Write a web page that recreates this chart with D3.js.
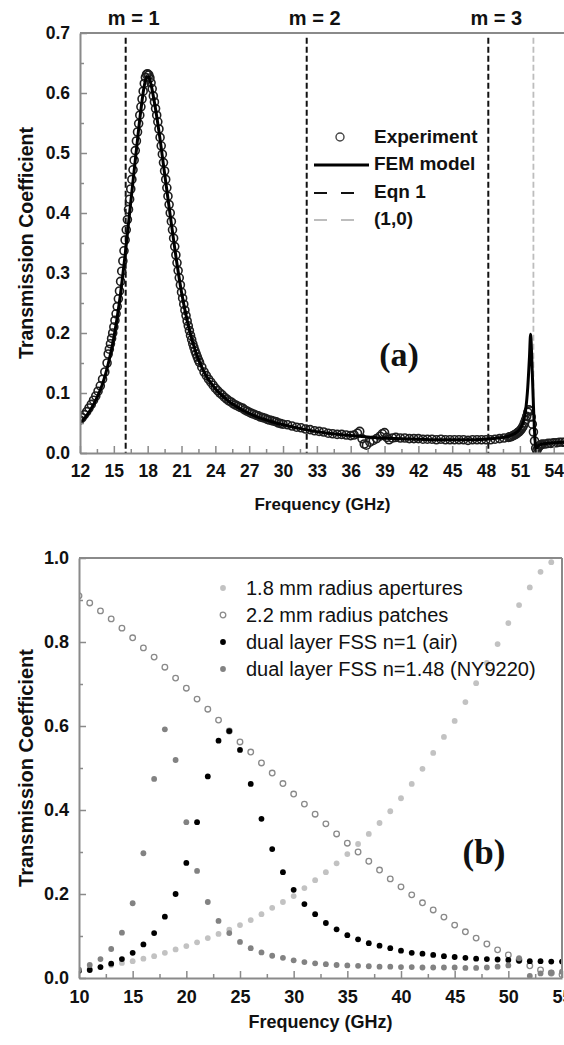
<!DOCTYPE html>
<html>
<head>
<meta charset="utf-8">
<script src="https://cdn.jsdelivr.net/npm/d3@7"></script>
<style>
  body { margin: 0; background: #fff; }
  svg text { font-family: "Liberation Sans", Arial, sans-serif; }
</style>
</head>
<body>
<svg id="chart"></svg>
<script>
// ---- panel (a): measured transmission [GHz, T] ----
var experiment = [
  [12.0,0.055],[12.2,0.059],[12.4,0.064],[12.6,0.069],[12.8,0.075],[13.0,0.081],[13.2,0.088],
  [13.4,0.095],[13.6,0.103],[13.8,0.112],[14.0,0.123],[14.2,0.135],[14.4,0.150],
  [14.5,0.165],[14.6,0.173],[14.7,0.182],[14.8,0.191],[14.9,0.200],[15.0,0.210],[15.1,0.221],
  [15.2,0.232],[15.3,0.244],[15.4,0.257],[15.5,0.270],[15.6,0.286],[15.7,0.303],[15.8,0.320],
  [15.9,0.337],[16.0,0.355],[16.1,0.372],[16.2,0.389],[16.3,0.406],[16.4,0.423],[16.5,0.440],
  [16.6,0.456],[16.7,0.472],[16.8,0.488],[16.9,0.504],[17.0,0.520],[17.1,0.535],[17.2,0.549],
  [17.3,0.563],[17.4,0.577],[17.5,0.590],[17.6,0.603],[17.7,0.616],[17.8,0.626],[17.9,0.631],
  [18.0,0.632],[18.1,0.630],[18.2,0.625],[18.3,0.617],[18.4,0.607],[18.5,0.595],[18.6,0.585],
  [18.7,0.574],[18.8,0.563],[18.9,0.552],[19.0,0.540],[19.1,0.526],[19.2,0.512],[19.3,0.498],
  [19.4,0.484],[19.5,0.470],[19.6,0.456],[19.7,0.442],[19.8,0.428],[19.9,0.414],[20.0,0.400],
  [20.1,0.386],[20.2,0.372],[20.3,0.358],[20.4,0.344],[20.5,0.330],[20.6,0.317],[20.7,0.304],
  [20.8,0.292],[20.9,0.280],[21.0,0.268],[21.1,0.258],[21.2,0.248],[21.3,0.238],[21.4,0.229],
  [21.5,0.220],[21.6,0.212],[21.7,0.204],[21.8,0.196],[21.9,0.189],[22.0,0.182],[22.1,0.176],
  [22.2,0.170],[22.3,0.165],[22.4,0.160],[22.5,0.155],
  [22.6,0.151],[22.8,0.143],[23.0,0.135],[23.2,0.129],[23.4,0.123],[23.6,0.118],[23.8,0.113],
  [24.0,0.108],[24.2,0.104],[24.4,0.100],[24.6,0.097],[24.8,0.093],[25.0,0.090],[25.2,0.087],
  [25.4,0.085],[25.6,0.082],[25.8,0.080],[26.0,0.078],[26.2,0.076],[26.4,0.075],[26.6,0.072],
  [26.8,0.070],[27.0,0.068],[27.2,0.066],[27.4,0.065],[27.6,0.063],[27.8,0.062],[28.0,0.060],
  [28.2,0.059],[28.4,0.058],[28.6,0.056],[28.8,0.055],[29.0,0.054],[29.2,0.053],[29.4,0.052],
  [29.6,0.050],[29.8,0.049],[30.0,0.048],
  [30.4,0.047],[30.8,0.045],[31.2,0.043],[31.6,0.042],[32.0,0.040],[32.4,0.039],[32.8,0.037],
  [33.2,0.036],[33.6,0.035],[34.0,0.033],[34.4,0.032],[34.8,0.031],[35.2,0.031],[35.6,0.030],
  [36.0,0.029],[36.3,0.030],[36.6,0.033],[36.8,0.036],[37.0,0.024],[37.2,0.015],[37.4,0.013],
  [37.7,0.018],[38.0,0.021],[38.3,0.024],[38.6,0.028],[38.8,0.032],[39.0,0.034],[39.2,0.026],
  [39.4,0.022],[39.7,0.025],[40.0,0.026],[40.4,0.025],[40.8,0.025],[41.2,0.024],[41.6,0.024],
  [42.0,0.024],[42.4,0.023],[42.8,0.023],[43.2,0.023],[43.6,0.022],[44.0,0.023],[44.4,0.022],
  [44.8,0.022],[45.2,0.022],[45.6,0.022],[46.0,0.022],[46.4,0.021],[46.8,0.022],[47.2,0.022],
  [47.6,0.022],[48.0,0.022],[48.4,0.022],[48.8,0.023],[49.2,0.024],[49.6,0.025],[50.0,0.026],
  [50.1,0.027],[50.2,0.027],[50.3,0.028],[50.4,0.029],[50.5,0.030],[50.6,0.031],[50.7,0.032],
  [50.8,0.034],[50.9,0.035],[51.0,0.037],[51.1,0.039],[51.2,0.042],[51.3,0.045],[51.4,0.050],
  [51.5,0.055],[51.6,0.061],[51.7,0.068],[51.8,0.072],[51.9,0.070],[52.0,0.060],[52.1,0.048],
  [52.2,0.035],[52.3,0.020],[52.4,0.008],[52.5,0.004],[52.6,0.008],[52.7,0.011],[52.8,0.013],
  [52.9,0.014],[53.0,0.015],[53.25,0.015],[53.5,0.016],[53.75,0.016],[54.0,0.017],[54.25,0.017],
  [54.5,0.018],[54.75,0.018],[55.0,0.018]
];

// FEM simulation [GHz, T]
var femModel = [
  [12,0.050],[12.5,0.060],[13,0.074],[13.5,0.092],[14,0.115],[14.5,0.148],[15,0.192],[15.5,0.252],
  [16,0.330],[16.5,0.418],[17,0.505],[17.4,0.572],[17.7,0.612],[17.9,0.626],[18.1,0.627],[18.3,0.614],
  [18.6,0.584],[19,0.536],[19.5,0.466],[20,0.396],[20.5,0.328],[21,0.268],[21.5,0.221],[22,0.184],
  [22.5,0.156],[23,0.135],[24,0.107],[25,0.089],[26,0.076],[27,0.066],[28,0.058],[29,0.052],
  [30,0.047],[32,0.039],[34,0.033],[36,0.029],[38,0.026],[40,0.024],[42,0.023],[44,0.022],
  [46,0.022],[48,0.023],[49,0.025],[50,0.028],[50.5,0.032],[51,0.040],[51.3,0.052],[51.5,0.070],
  [51.7,0.110],[51.85,0.160],[51.95,0.198],[52.05,0.160],[52.2,0.080],[52.35,0.020],[52.45,0.004],
  [52.6,0.012],[53,0.015],[54,0.017],[55,0.018]
];

var eqnFreqs = [16.05, 32.1, 48.2];
var eqnLabels = ["m = 1", "m = 2", "m = 3"];
var mode10Freq = 52.2;
var legendA = ["Experiment", "FEM model", "Eqn 1", "(1,0)"];

var aTicksX = [12, 15, 18, 21, 24, 27, 30, 33, 36, 39, 42, 45, 48, 51, 54],
    aMinorX = [13.5, 16.5, 19.5, 22.5, 25.5, 28.5, 31.5, 34.5, 37.5, 40.5, 43.5, 46.5, 49.5, 52.5],
    aTicksY = [0, 0.1, 0.2, 0.3, 0.4, 0.5, 0.6, 0.7],
    aMinorY = [0.05, 0.15, 0.25, 0.35, 0.45, 0.55, 0.65];

// ---- panel (b): simulated transmission at 1 GHz steps ----
var freqB = [10,11,12,13,14,15,16,17,18,19,20,21,22,23,24,25,26,27,28,29,30,31,32,
             33,34,35,36,37,38,39,40,41,42,43,44,45,46,47,48,49,50,51,52,53,54,55];
var apertures = [0.018,0.022,0.026,0.031,0.036,0.040,0.046,0.052,0.060,0.068,0.076,0.085,0.095,
                 0.105,0.115,0.126,0.138,0.152,0.167,0.181,0.195,0.214,0.233,0.252,0.273,0.295,
                 0.319,0.343,0.369,0.397,0.428,0.462,0.498,0.536,0.574,0.612,0.657,0.702,0.750,
                 0.795,0.845,0.888,0.930,0.967,0.990,null];
var patches = [0.910,0.893,0.874,0.855,0.833,0.810,0.786,0.764,0.740,0.714,0.690,0.664,0.640,
               0.614,0.588,0.562,0.538,0.512,0.488,0.463,0.438,0.414,0.390,0.367,0.343,0.321,
               0.300,0.278,0.257,0.236,0.217,0.198,0.179,0.162,0.145,0.126,0.110,0.095,0.081,
               0.067,0.055,0.043,0.029,0.019,0.012,0.008];
var dualAir = [0.017,0.019,0.026,0.034,0.045,0.060,0.080,0.107,0.146,0.200,0.274,0.371,0.480,
               0.565,0.588,0.543,0.462,0.379,0.307,0.252,0.210,0.176,0.152,0.131,0.116,0.102,
               0.092,0.083,0.077,0.071,0.065,0.060,0.058,0.055,0.052,0.050,0.048,0.046,0.045,
               0.044,0.043,0.041,0.040,0.040,0.039,0.039];
var dualNY = [0.020,0.031,0.045,0.069,0.108,0.178,0.297,0.474,0.592,0.519,0.371,0.255,0.181,
              0.136,0.107,0.086,0.071,0.061,0.053,0.048,0.042,0.038,0.035,0.033,0.031,0.030,
              0.029,0.028,0.027,0.027,0.026,0.026,0.025,0.025,0.025,0.025,0.024,0.024,0.025,
              0.027,0.030,0.047,0.005,0.011,0.013,0.015];
var legendB = ["1.8 mm radius apertures", "2.2 mm radius patches",
               "dual layer FSS n=1 (air)", "dual layer FSS n=1.48 (NY9220)"];

var bTicksX = [10, 15, 20, 25, 30, 35, 40, 45, 50, 55],
    bMinorX = [12.5, 17.5, 22.5, 27.5, 32.5, 37.5, 42.5, 47.5, 52.5],
    bTicksY = [0, 0.2, 0.4, 0.6, 0.8, 1.0],
    bMinorY = [0.1, 0.3, 0.5, 0.7, 0.9];

var width = 564, height = 1045,
    axisGray = "#8a8a8a",
    sans = '"Liberation Sans", Arial, sans-serif',
    serif = '"Liberation Serif", "Times New Roman", serif';

var svg = d3.select("#chart")
    .attr("width", width)
    .attr("height", height);

function drawAxes(g, x, y, w, h, t) {
  g.append("g")
      .attr("transform", "translate(0," + h + ")")
      .call(d3.axisBottom(x).tickValues(t.xMajor).tickSizeInner(-7).tickSizeOuter(0)
              .tickPadding(12).tickFormat(d3.format("d")));
  g.append("g")
      .attr("transform", "translate(0," + h + ")")
      .call(d3.axisBottom(x).tickValues(t.xMinor).tickSize(-4).tickFormat(""))
    .select(".domain").remove();
  g.append("g")
      .call(d3.axisLeft(y).tickValues(t.yMajor).tickSizeInner(-7).tickSizeOuter(0)
              .tickPadding(10).tickFormat(d3.format(".1f")));
  g.append("g")
      .call(d3.axisLeft(y).tickValues(t.yMinor).tickSize(-4).tickFormat(""))
    .select(".domain").remove();

  // top frame
  g.append("line")
      .attr("x1", 0).attr("x2", w).attr("y1", 0).attr("y2", 0)
      .attr("stroke", axisGray).attr("stroke-width", 2);

  g.selectAll(".domain").attr("stroke", axisGray).attr("stroke-width", 2);
  g.selectAll(".tick line").attr("stroke", axisGray).attr("stroke-width", 1.5);
  g.selectAll(".tick text")
      .style("font-family", sans)
      .attr("font-weight", "bold")
      .attr("font-size", t.tickFont)
      .attr("fill", "#111");

  g.append("text")
      .attr("x", w / 2)
      .attr("y", h + t.titleDy)
      .attr("text-anchor", "middle")
      .attr("font-weight", "bold")
      .attr("font-size", t.font)
      .attr("fill", "#111")
      .text("Frequency (GHz)");

  g.append("text")
      .attr("transform", "translate(" + (33 - t.left) + "," + (h / 2) + ") rotate(-90)")
      .attr("text-anchor", "middle")
      .attr("font-weight", "bold")
      .attr("font-size", t.yFont)
      .attr("fill", "#111")
      .text("Transmission Coefficient");
}

// ================= panel (a) =================
var mA = {top: 33, left: 80},
    wA = 485, hA = 420;

var xA = d3.scaleLinear().domain([12, 55]).range([0, wA]),
    yA = d3.scaleLinear().domain([0, 0.7]).range([hA, 0]);

var gA = svg.append("g")
    .attr("transform", "translate(" + mA.left + "," + mA.top + ")");

gA.append("clipPath").attr("id", "clipA")
  .append("rect").attr("width", wA).attr("height", hA);

var plotA = gA.append("g").attr("clip-path", "url(#clipA)");

// Eqn 1 grating lines and the (1,0) mode
plotA.selectAll(".eqn")
    .data(eqnFreqs).enter()
    .append("line")
      .attr("class", "eqn")
      .attr("x1", function(d) { return xA(d); })
      .attr("x2", function(d) { return xA(d); })
      .attr("y1", yA(0.692))
      .attr("y2", yA(0))
      .attr("stroke", "#111")
      .attr("stroke-width", 2)
      .attr("stroke-dasharray", "6,3");

plotA.append("line")
    .attr("x1", xA(mode10Freq)).attr("x2", xA(mode10Freq))
    .attr("y1", yA(0.692)).attr("y2", yA(0))
    .attr("stroke", "#bdbdbd")
    .attr("stroke-width", 1.8)
    .attr("stroke-dasharray", "6,3");

plotA.selectAll(".exp")
    .data(experiment).enter()
    .append("circle")
      .attr("class", "exp")
      .attr("cx", function(d) { return xA(d[0]); })
      .attr("cy", function(d) { return yA(d[1]); })
      .attr("r", 4)
      .attr("fill", "none")
      .attr("stroke", "#1e1e1e")
      .attr("stroke-width", 1.6);

plotA.append("path")
    .datum(femModel)
    .attr("fill", "none")
    .attr("stroke", "#000")
    .attr("stroke-width", 3)
    .attr("d", d3.line()
        .x(function(d) { return xA(d[0]); })
        .y(function(d) { return yA(d[1]); })
        .curve(d3.curveMonotoneX));

drawAxes(gA, xA, yA, wA, hA, {
  xMajor: aTicksX, xMinor: aMinorX, yMajor: aTicksY, yMinor: aMinorY,
  tickFont: 17.5, font: 17, yFont: 19.5, titleDy: 57, left: mA.left
});

gA.selectAll(".mlabel")
    .data(eqnFreqs).enter()
    .append("text")
      .attr("class", "mlabel")
      .attr("x", function(d) { return xA(d) + 8; })
      .attr("y", 25 - mA.top)
      .attr("text-anchor", "middle")
      .attr("font-weight", "bold")
      .attr("font-size", 20)
      .attr("fill", "#111")
      .text(function(d, i) { return eqnLabels[i]; });

// legend (a)
var legA = gA.append("g").attr("transform", "translate(" + (314 - mA.left) + "," + (137 - mA.top) + ")");
legA.append("circle").attr("cx", 26).attr("cy", 0).attr("r", 4)
    .attr("fill", "none").attr("stroke", "#444").attr("stroke-width", 1.4);
legA.append("line").attr("x1", 0).attr("x2", 55).attr("y1", 28).attr("y2", 28)
    .attr("stroke", "#000").attr("stroke-width", 3);
legA.append("line").attr("x1", 0).attr("x2", 40).attr("y1", 56).attr("y2", 56)
    .attr("stroke", "#111").attr("stroke-width", 2.2).attr("stroke-dasharray", "13,14");
legA.append("line").attr("x1", 0).attr("x2", 40).attr("y1", 83).attr("y2", 83)
    .attr("stroke", "#bdbdbd").attr("stroke-width", 2.2).attr("stroke-dasharray", "13,14");
legA.selectAll("text")
    .data(legendA).enter()
    .append("text")
      .attr("x", 60)
      .attr("y", function(d, i) { return [6, 33, 61, 88][i]; })
      .attr("font-weight", "bold")
      .attr("font-size", 19)
      .attr("fill", "#111")
      .text(function(d) { return d; });

gA.append("text")
    .attr("x", 399 - mA.left)
    .attr("y", 366 - mA.top)
    .attr("text-anchor", "middle")
    .style("font-family", serif)
    .attr("font-weight", "bold")
    .attr("font-size", 34)
    .attr("fill", "#111")
    .text("(a)");

// ================= panel (b) =================
var mB = {top: 558, left: 79},
    wB = 483, hB = 420;

var xB = d3.scaleLinear().domain([10, 55]).range([0, wB]),
    yB = d3.scaleLinear().domain([0, 1]).range([hB, 0]);

var gB = svg.append("g")
    .attr("transform", "translate(" + mB.left + "," + mB.top + ")");

gB.append("clipPath").attr("id", "clipB")
  .append("rect").attr("width", wB).attr("height", hB);

var seriesB = [
  {name: legendB[0], values: apertures, fill: "#c2c2c2", stroke: "none"},
  {name: legendB[1], values: patches,   fill: "#fff",    stroke: "#8a8a8a"},
  {name: legendB[2], values: dualAir,   fill: "#000",    stroke: "none"},
  {name: legendB[3], values: dualNY,    fill: "#828282", stroke: "none"}
];

var plotB = gB.append("g").attr("clip-path", "url(#clipB)");

seriesB.forEach(function(s) {
  var pts = freqB.map(function(f, i) { return [f, s.values[i]]; })
                 .filter(function(d) { return d[1] != null; });
  plotB.append("g").selectAll("circle")
      .data(pts).enter()
      .append("circle")
        .attr("cx", function(d) { return xB(d[0]); })
        .attr("cy", function(d) { return yB(d[1]); })
        .attr("r", s.stroke === "none" ? 2.9 : 2.8)
        .attr("fill", s.fill)
        .attr("stroke", s.stroke)
        .attr("stroke-width", 1.3);
});

drawAxes(gB, xB, yB, wB, hB, {
  xMajor: bTicksX, xMinor: bMinorX, yMajor: bTicksY, yMinor: bMinorY,
  tickFont: 18, font: 18, yFont: 20, titleDy: 50, left: mB.left
});

// right frame
gB.append("line")
    .attr("x1", wB).attr("x2", wB).attr("y1", 0).attr("y2", hB)
    .attr("stroke", axisGray).attr("stroke-width", 2);

// legend (b)
var legB = gB.append("g").attr("transform", "translate(" + (223 - mB.left) + "," + (588 - mB.top) + ")");
legB.selectAll("circle")
    .data(seriesB).enter()
    .append("circle")
      .attr("cx", 0)
      .attr("cy", function(d, i) { return i * 27; })
      .attr("r", function(d) { return d.stroke === "none" ? 2.9 : 2.8; })
      .attr("fill", function(d) { return d.fill; })
      .attr("stroke", function(d) { return d.stroke; })
      .attr("stroke-width", 1.3);
legB.selectAll("text")
    .data(seriesB).enter()
    .append("text")
      .attr("x", 23)
      .attr("y", function(d, i) { return i * 27 + 7; })
      .attr("font-size", 20)
      .attr("fill", "#111")
      .text(function(d) { return d.name; });

gB.append("text")
    .attr("x", 484 - mB.left)
    .attr("y", 864 - mB.top)
    .attr("text-anchor", "middle")
    .style("font-family", serif)
    .attr("font-weight", "bold")
    .attr("font-size", 35)
    .attr("fill", "#111")
    .text("(b)");
</script>
</body>
</html>
